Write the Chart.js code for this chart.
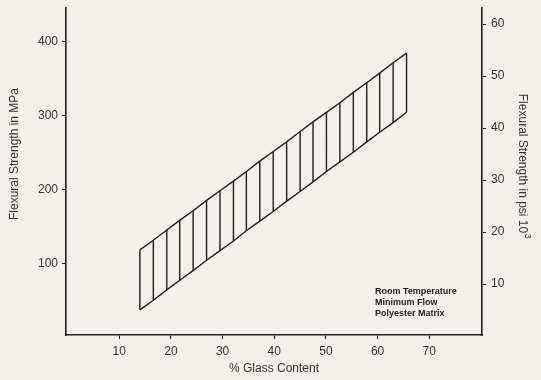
<!DOCTYPE html>
<html>
<head>
<meta charset="utf-8">
<script src="https://cdn.jsdelivr.net/npm/chart.js@4.4.1/dist/chart.umd.min.js"></script>
<style>
    html, body { margin: 0; padding: 0; background: #f3f0eb; }
    #wrap { width: 541px; height: 380px; position: relative; }
</style>
</head>
<body>
<div id="wrap"><canvas id="grafico"></canvas></div>
<script>
// % glass content at each hatch line
const glassContent = [14.0, 16.6, 19.2, 21.7, 24.3, 26.9, 29.5, 32.1, 34.6, 37.2, 39.8,
    42.4, 45.0, 47.5, 50.1, 52.7, 55.3, 57.9, 60.4, 63.0, 65.6];
// upper / lower bound of flexural strength (MPa)
const strengthUpper = [118, 131, 145, 158, 171, 185, 198, 211, 224, 238, 251,
    264, 278, 291, 304, 317, 331, 344, 357, 371, 384];
const strengthLower = [37, 50, 64, 77, 90, 104, 117, 130, 144, 157, 170,
    184, 197, 210, 224, 237, 250, 264, 277, 290, 304];

const glassTicks = [10, 20, 30, 40, 50, 60, 70];
const mpaTicks = [100, 200, 300, 400];
const psiTicks = [10, 20, 30, 40, 50, 60];

const notes = ['Room Temperature', 'Minimum Flow', 'Polyester Matrix'];
const notesAt = { glass: 59.5, mpa: 62 };

(function () {
    'use strict';

    const INK = '#1e1e1e';
    const TEXT = '#333333';
    const FONT = "'Liberation Sans', Arial, sans-serif";

    const upperLine = glassContent.map((x, i) => ({ x, y: strengthUpper[i] }));
    const lowerLine = glassContent.map((x, i) => ({ x, y: strengthLower[i] }));
    const rungs = glassContent.flatMap((x, i) => [
        { x, y: strengthLower[i] },
        { x, y: strengthUpper[i] },
        { x, y: null },
    ]);

    const lineStyle = {
        borderColor: INK,
        borderWidth: 1.4,
        pointRadius: 0,
        fill: false,
        tension: 0,
        spanGaps: false,
    };

    const axisGrid = { drawOnChartArea: false, tickLength: 4, color: INK, lineWidth: 1 };
    const axisBorder = { display: true, color: INK, width: 1.6 };
    const tickFont = { family: FONT, size: 12 };

    function ajustarVertical(ancho) {
        return (s) => {
            s.width = ancho;
            s.paddingTop = 0;
            s.paddingBottom = 0;
        };
    }

    const textos = {
        id: 'textos',
        afterDraw(chart) {
            const ctx = chart.ctx;
            const area = chart.chartArea;
            ctx.save();
            ctx.fillStyle = TEXT;

            // left title
            ctx.font = `12px ${FONT}`;
            ctx.textAlign = 'center';
            ctx.textBaseline = 'middle';
            ctx.save();
            ctx.translate(15, area.top + 146);
            ctx.rotate(-Math.PI / 2);
            ctx.fillText('Flexural Strength in MPa', 0, 0);
            ctx.restore();

            // right title with superscript
            const main = 'Flexural Strength in psi 10';
            const mainWidth = ctx.measureText(main).width;
            ctx.font = `9px ${FONT}`;
            const supWidth = ctx.measureText('3').width;
            const total = mainWidth + supWidth;
            ctx.save();
            ctx.translate(522, area.top + 158);
            ctx.rotate(Math.PI / 2);
            ctx.textAlign = 'left';
            ctx.font = `12px ${FONT}`;
            ctx.fillText(main, -total / 2, 0);
            ctx.font = `9px ${FONT}`;
            ctx.fillText('3', -total / 2 + mainWidth + 0.5, -5);
            ctx.restore();

            // notes
            const px = chart.scales.x.getPixelForValue(notesAt.glass);
            const py = chart.scales.y.getPixelForValue(notesAt.mpa);
            ctx.font = `bold 9px ${FONT}`;
            ctx.textAlign = 'left';
            ctx.fillStyle = '#222';
            notes.forEach((linea, i) => {
                ctx.fillText(linea, px, py + i * 11);
            });
            ctx.restore();
        },
    };

    new Chart(document.getElementById('grafico'), {
        type: 'line',
        data: {
            datasets: [
                { ...lineStyle, data: upperLine },
                { ...lineStyle, data: lowerLine },
                { ...lineStyle, data: rungs },
            ],
        },
        options: {
            responsive: true,
            maintainAspectRatio: false,
            animation: false,
            layout: { padding: { top: 8, left: 0, right: 0, bottom: 0 } },
            plugins: {
                legend: { display: false },
                tooltip: { enabled: false },
            },
            scales: {
                x: {
                    type: 'linear',
                    min: -0.3,
                    max: 80.2,
                    afterBuildTicks: (s) => { s.ticks = glassTicks.map((v) => ({ value: v })); },
                    afterFit: (s) => {
                        s.height = 45;
                        s.paddingLeft = 0;
                        s.paddingRight = 0;
                    },
                    grid: axisGrid,
                    border: axisBorder,
                    ticks: { padding: 5, color: TEXT, font: tickFont, maxRotation: 0 },
                    title: {
                        display: true,
                        text: '% Glass Content',
                        color: TEXT,
                        font: { family: FONT, size: 12 },
                        padding: { top: 0, bottom: 4 },
                    },
                },
                y: {
                    type: 'linear',
                    position: 'left',
                    min: 3,
                    max: 445,
                    afterBuildTicks: (s) => { s.ticks = mpaTicks.map((v) => ({ value: v })); },
                    afterFit: ajustarVertical(66),
                    grid: axisGrid,
                    border: axisBorder,
                    ticks: { padding: 4, color: TEXT, font: tickFont },
                },
                y2: {
                    type: 'linear',
                    position: 'right',
                    min: 0.2,
                    max: 63.1,
                    afterBuildTicks: (s) => { s.ticks = psiTicks.map((v) => ({ value: v })); },
                    afterFit: ajustarVertical(59),
                    grid: axisGrid,
                    border: axisBorder,
                    ticks: { padding: 5, color: TEXT, font: tickFont },
                },
            },
        },
        plugins: [textos],
    });
})();
</script>
</body>
</html>
